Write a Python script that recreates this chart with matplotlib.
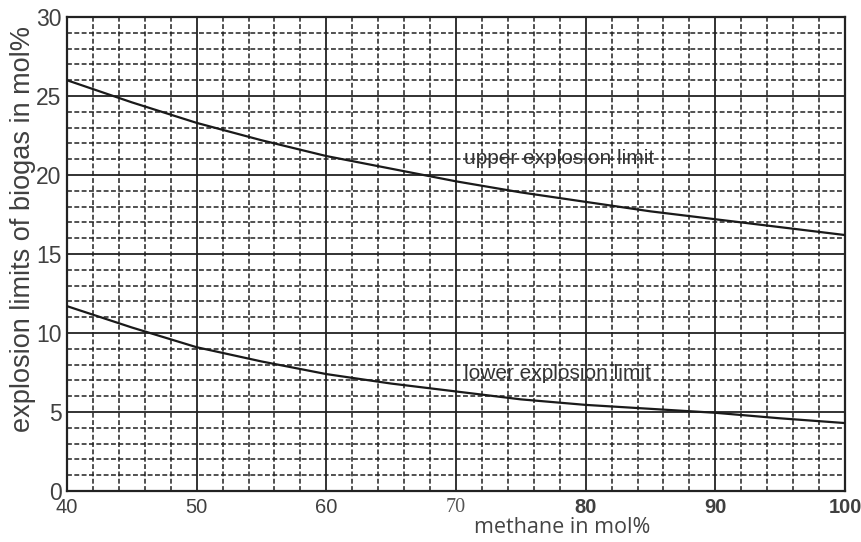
import numpy as np
import matplotlib.pyplot as plt
from matplotlib.ticker import MultipleLocator

# methane content (mol%) and explosion limits
methane = [40, 45, 50, 55, 60, 65, 70, 75, 80, 85, 90, 95, 100]
upper_limit = [26.0, 24.6, 23.3, 22.2, 21.2, 20.4, 19.6, 18.9, 18.3, 17.7, 17.2, 16.7, 16.2]
lower_limit = [11.7, 10.35, 9.1, 8.2, 7.4, 6.8, 6.3, 5.8, 5.45, 5.2, 4.95, 4.6, 4.3]

x_ticks = [40, 50, 60, 70, 80, 90, 100]
y_ticks = [0, 5, 10, 15, 20, 25, 30]

fig = plt.figure(figsize=(8.62, 5.42), dpi=100)
ax = fig.add_axes([0.0777, 0.0941, 0.9026, 0.8745])

ax.plot(methane, upper_limit, color='#1a1a1a', lw=1.6, zorder=3)
ax.plot(methane, lower_limit, color='#1a1a1a', lw=1.6, zorder=3)

ax.set_xlim(40, 100)
ax.set_ylim(0, 30)
ax.xaxis.set_major_locator(MultipleLocator(10))
ax.xaxis.set_minor_locator(MultipleLocator(2))
ax.yaxis.set_major_locator(MultipleLocator(5))
ax.yaxis.set_minor_locator(MultipleLocator(1))

ax.grid(which='major', color='#222222', lw=1.3, ls='-')
ax.grid(which='minor', color='#222222', lw=1.1, ls=(0, (3.2, 1.6)))
ax.set_axisbelow(True)
for s in ax.spines.values():
    s.set_linewidth(1.6)
    s.set_color('#222222')

ax.tick_params(which='both', length=0)
ax.tick_params(axis='y', pad=4)
ax.tick_params(axis='x', pad=5)

ax.set_yticks(y_ticks)
ax.set_yticklabels([str(v) for v in y_ticks], fontsize=16.5, color='#404040',
                   fontfamily='Liberation Sans')
ax.set_xticks(x_ticks)
ax.set_xticklabels([str(v) for v in x_ticks])
for v, lab in zip(x_ticks, ax.get_xticklabels()):
    if v == 70:
        lab.set_fontfamily('Liberation Serif')
        lab.set_fontsize(14.5)
        lab.set_color('#555555')
    elif v >= 80:
        lab.set_fontfamily('Liberation Sans')
        lab.set_fontweight('bold')
        lab.set_fontsize(14.5)
        lab.set_color('#404040')
    else:
        lab.set_fontfamily('Liberation Sans')
        lab.set_fontsize(14.5)
        lab.set_color('#404040')

fig.text(0.652, 0.008, 'methane in mol%', fontsize=15.5, color='#444444',
         fontfamily='Open Sans', ha='center', va='bottom')
fig.text(0.012, 0.578, 'explosion limits of biogas in mol%', fontsize=19.5,
         color='#404040', fontfamily='Liberation Sans', rotation=90,
         ha='left', va='center')

ax.text(70.6, 21.05, 'upper explosion limit', fontsize=15, color='#333333',
        fontfamily='Liberation Sans', va='center', ha='left', zorder=4)
ax.text(70.6, 7.45, 'lower explosion limit', fontsize=15, color='#333333',
        fontfamily='Liberation Sans', va='center', ha='left', zorder=4)

fig.savefig('out.png', dpi=100)
